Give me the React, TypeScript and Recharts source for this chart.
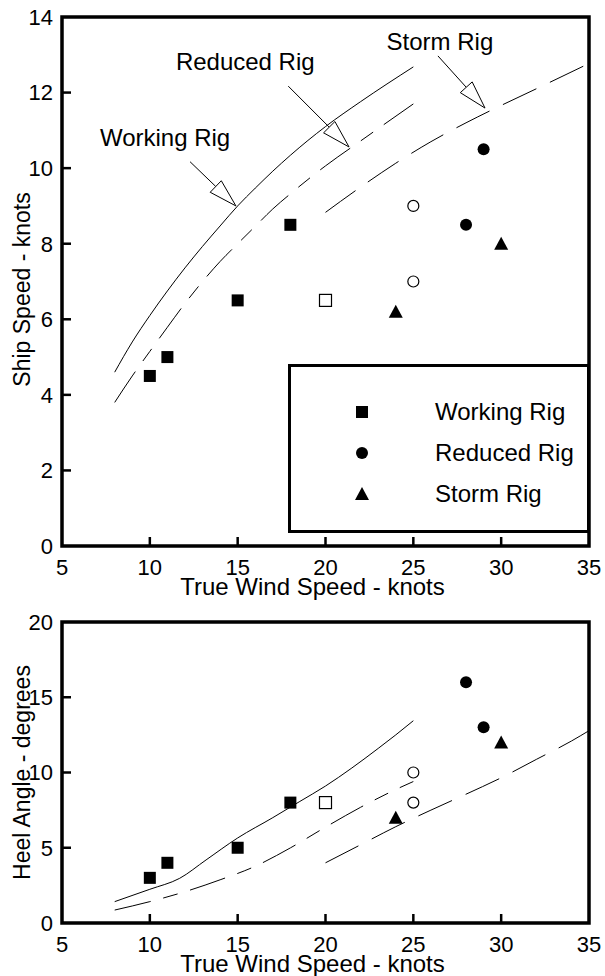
import React from 'react';
import { ComposedChart, Line, Scatter, XAxis, YAxis, ReferenceLine, Legend, Label } from 'recharts';

const FONT = '"Liberation Sans", Arial, Helvetica, sans-serif';

const xTicks = [5, 10, 15, 20, 25, 30, 35];
const speedTicks = [0, 2, 4, 6, 8, 10, 12, 14];
const heelTicks = [0, 5, 10, 15, 20];

// predicted ship speed curves
const speedWorkingCurve = [
  { x: 8, y: 4.6 }, { x: 9, y: 5.4 }, { x: 10, y: 6.1 }, { x: 11, y: 6.75 }, { x: 12, y: 7.36 },
  { x: 13, y: 7.93 }, { x: 14, y: 8.47 }, { x: 15, y: 9.0 }, { x: 16, y: 9.47 }, { x: 17, y: 9.92 },
  { x: 18, y: 10.34 }, { x: 20, y: 11.1 }, { x: 22, y: 11.76 }, { x: 25, y: 12.68 },
];
const speedReducedCurve = [
  { x: 8, y: 3.8 }, { x: 9, y: 4.5 }, { x: 10, y: 5.15 }, { x: 11, y: 5.79 }, { x: 12, y: 6.42 },
  { x: 13, y: 7.0 }, { x: 14, y: 7.53 }, { x: 15, y: 8.0 }, { x: 16, y: 8.46 }, { x: 17, y: 8.92 },
  { x: 18, y: 9.32 }, { x: 20, y: 10.06 }, { x: 22, y: 10.72 }, { x: 25, y: 11.7 },
];
const speedStormCurve = [
  { x: 20, y: 8.83 }, { x: 22, y: 9.5 }, { x: 24, y: 10.13 }, { x: 26, y: 10.7 },
  { x: 28, y: 11.2 }, { x: 30, y: 11.66 }, { x: 32, y: 12.1 }, { x: 35, y: 12.77 },
];

// measured ship speed
const speedWorkingPts = [{ x: 10, y: 4.5 }, { x: 11, y: 5 }, { x: 15, y: 6.5 }, { x: 18, y: 8.5 }];
const speedWorkingOpenPts = [{ x: 20, y: 6.5 }];
const speedReducedPts = [{ x: 28, y: 8.5 }, { x: 29, y: 10.5 }];
const speedReducedOpenPts = [{ x: 25, y: 9 }, { x: 25, y: 7 }];
const speedStormPts = [{ x: 24, y: 6.2 }, { x: 30, y: 8 }];

// predicted heel curves
const heelWorkingCurve = [
  { x: 8, y: 1.42 }, { x: 10, y: 2.24 }, { x: 11.7, y: 2.97 }, { x: 13.2, y: 4.19 }, { x: 15, y: 5.65 },
  { x: 17, y: 7.0 }, { x: 18.5, y: 8.05 }, { x: 20, y: 9.1 }, { x: 21.5, y: 10.3 }, { x: 23, y: 11.6 },
  { x: 24, y: 12.5 }, { x: 25, y: 13.44 },
];
const heelReducedCurve = [
  { x: 8, y: 0.86 }, { x: 10, y: 1.42 }, { x: 12, y: 2.08 }, { x: 14, y: 2.87 }, { x: 16, y: 3.77 },
  { x: 18, y: 4.99 }, { x: 20, y: 6.37 }, { x: 22, y: 7.69 }, { x: 24, y: 8.87 }, { x: 25, y: 9.4 },
];
const heelStormCurve = [
  { x: 20, y: 4.0 }, { x: 22, y: 5.2 }, { x: 24, y: 6.4 }, { x: 26, y: 7.5 }, { x: 28, y: 8.56 },
  { x: 30, y: 9.65 }, { x: 32, y: 10.87 }, { x: 34, y: 12.09 }, { x: 35, y: 12.78 },
];

// measured heel
const heelWorkingPts = [{ x: 10, y: 3 }, { x: 11, y: 4 }, { x: 15, y: 5 }, { x: 18, y: 8 }];
const heelWorkingOpenPts = [{ x: 20, y: 8 }];
const heelReducedPts = [{ x: 28, y: 16 }, { x: 29, y: 13 }];
const heelReducedOpenPts = [{ x: 25, y: 10 }, { x: 25, y: 8 }];
const heelStormPts = [{ x: 24, y: 7 }, { x: 30, y: 12 }];

// arrow callouts on the speed plot (tail -> tip, data units)
const callouts = [
  { label: 'Working Rig', from: { x: 12.29, y: 10.17 }, to: { x: 14.9, y: 9.0 } },
  { label: 'Reduced Rig', from: { x: 17.88, y: 12.17 }, to: { x: 21.34, y: 10.56 } },
  { label: 'Storm Rig', from: { x: 26.4, y: 12.97 }, to: { x: 29.08, y: 11.59 } },
];
const calloutTextOffset: Record<string, [number, number]> = {
  'Working Rig': [-25, -16],
  'Reduced Rig': [-43, -16],
  'Storm Rig': [2, -6],
};

const legendItems = ['Working Rig', 'Reduced Rig', 'Storm Rig'];

const REDUCED_DASH = '37 13 15 13';
const STORM_DASH = '37 15';
const TICK_LEN = 9;

const Square = ({ cx, cy, open }: any) => (
  <rect x={cx - 6} y={cy - 6} width={12} height={12}
    fill={open ? '#fff' : '#000'} stroke="#000" strokeWidth={open ? 1.2 : 0} />
);
const Circle = ({ cx, cy, open }: any) => (
  <circle cx={cx} cy={cy} r={open ? 5.5 : 6}
    fill={open ? '#fff' : '#000'} stroke="#000" strokeWidth={open ? 1.2 : 0} />
);
const Triangle = ({ cx, cy }: any) => (
  <polygon points={`${cx},${cy - 7} ${cx + 7},${cy + 6} ${cx - 7},${cy + 6}`} fill="#000" />
);

// inward tick marks, placed on the axes through the chart scales
const xTickMarks = xTicks.slice(1, -1).map((v) => ({ x: v, y: 0 }));
const yTickMarks = (ticks: number[]) => ticks.slice(1, -1).map((v) => ({ x: 5, y: v }));
const frameBox = (yMax: number) => [
  { x: 5, y: 0 }, { x: 5, y: yMax }, { x: 35, y: yMax }, { x: 35, y: 0 }, { x: 5, y: 0 },
];
const XMark = (p: any) => (
  <line x1={p.cx} x2={p.cx} y1={p.cy} y2={p.cy - TICK_LEN} stroke="#000" strokeWidth={2.5} />
);
const YMark = (p: any) => (
  <line x1={p.cx} x2={p.cx + TICK_LEN} y1={p.cy} y2={p.cy} stroke="#000" strokeWidth={2.5} />
);

const arrowShape = (label: string) => (p: any) => {
  const { x1, y1, x2, y2 } = p;
  const len = Math.hypot(x2 - x1, y2 - y1) || 1;
  const ux = (x2 - x1) / len;
  const uy = (y2 - y1) / len;
  const bx = x2 - ux * 28;
  const by = y2 - uy * 28;
  const nx = -uy * 8;
  const ny = ux * 8;
  const [dx, dy] = calloutTextOffset[label];
  return (
    <g>
      <line x1={x1} y1={y1} x2={bx} y2={by} stroke="#000" strokeWidth={1} />
      <polygon points={`${x2},${y2} ${bx + nx},${by + ny} ${bx - nx},${by - ny}`}
        fill="#fff" stroke="#000" strokeWidth={1} />
      <text x={x1 + dx} y={y1 + dy} textAnchor="middle" fontSize={24} fontFamily={FONT} fill="#000">
        {label}
      </text>
    </g>
  );
};

const xLabel = (p: any) => {
  const { x, y, width } = p.viewBox;
  return (
    <text x={x + width / 2 - 13} y={y + 49} textAnchor="middle" fontSize={24} fontFamily={FONT} fill="#000">
      True Wind Speed - knots
    </text>
  );
};

const yLabel = (text: string, shift: number) => (p: any) => {
  const { x, y, height } = p.viewBox;
  const cx = x + 22;
  const cy = y + height / 2 + shift;
  return (
    <text x={cx} y={cy} dy="0.36em" transform={`rotate(-90 ${cx} ${cy})`} textAnchor="middle"
      fontSize={23} fontFamily={FONT} fill="#000">
      {text}
    </text>
  );
};

const LegendBox = () => {
  const rows = [45, 86, 127];
  return (
    <div style={{
      boxSizing: 'border-box', width: 302, height: 169, border: '3px solid #000',
      background: '#fff', position: 'relative', fontFamily: FONT, fontSize: 24, color: '#000',
    }}>
      {legendItems.map((name, i) => (
        <div key={name} style={{ position: 'absolute', left: 0, top: rows[i] - 15, height: 30, width: 296 }}>
          <svg width={20} height={20} style={{ position: 'absolute', left: 61, top: 5 }}>
            {i === 0 && <rect x={4} y={4} width={12} height={12} fill="#000" />}
            {i === 1 && <circle cx={10} cy={10} r={6} fill="#000" />}
            {i === 2 && <polygon points="10,3 17,16 3,16" fill="#000" />}
          </svg>
          <span style={{ position: 'absolute', left: 144, top: 0, lineHeight: '30px', whiteSpace: 'nowrap' }}>
            {name}
          </span>
        </div>
      ))}
    </div>
  );
};

const tickText = { fill: '#000', fontSize: 22, fontFamily: FONT };

const frame = (yMax: number, yTicks: number[]) => [
  <Line key="frame" data={frameBox(yMax)} dataKey="y" type="linear" stroke="#000" strokeWidth={3.5}
    strokeLinejoin="miter" strokeLinecap="square" dot={false} activeDot={false} isAnimationActive={false} />,
  <Scatter key="xm" data={xTickMarks} dataKey="y" shape={XMark} isAnimationActive={false} />,
  <Scatter key="ym" data={yTickMarks(yTicks)} dataKey="y" shape={YMark} isAnimationActive={false} />,
];

const SpeedChart = () => (
  <ComposedChart width={605} height={600} margin={{ top: 17, right: 16, bottom: 0, left: 0 }}>
    <XAxis dataKey="x" type="number" domain={[5, 35]} ticks={xTicks} interval={0} height={54}
      axisLine={false} tickLine={false} tickSize={0} tickMargin={13} tick={tickText}>
      <Label content={xLabel} />
    </XAxis>
    <YAxis dataKey="y" type="number" domain={[0, 14]} ticks={speedTicks} interval={0} width={62}
      axisLine={false} tickLine={false} tickSize={0} tickMargin={9} tick={tickText}>
      <Label content={yLabel('Ship Speed - knots', 8)} />
    </YAxis>
    {frame(14, speedTicks)}
    <Line data={speedWorkingCurve} dataKey="y" type="monotone" stroke="#000" strokeWidth={1}
      dot={false} activeDot={false} isAnimationActive={false} />
    <Line data={speedReducedCurve} dataKey="y" type="monotone" stroke="#000" strokeWidth={1}
      strokeDasharray={REDUCED_DASH} dot={false} activeDot={false} isAnimationActive={false} />
    <Line data={speedStormCurve} dataKey="y" type="monotone" stroke="#000" strokeWidth={1}
      strokeDasharray={STORM_DASH} dot={false} activeDot={false} isAnimationActive={false} />
    <Scatter data={speedWorkingPts} dataKey="y" shape={(p: any) => <Square cx={p.cx} cy={p.cy} />} isAnimationActive={false} />
    <Scatter data={speedWorkingOpenPts} dataKey="y" shape={(p: any) => <Square cx={p.cx} cy={p.cy} open />} isAnimationActive={false} />
    <Scatter data={speedReducedPts} dataKey="y" shape={(p: any) => <Circle cx={p.cx} cy={p.cy} />} isAnimationActive={false} />
    <Scatter data={speedReducedOpenPts} dataKey="y" shape={(p: any) => <Circle cx={p.cx} cy={p.cy} open />} isAnimationActive={false} />
    <Scatter data={speedStormPts} dataKey="y" shape={(p: any) => <Triangle cx={p.cx} cy={p.cy} />} isAnimationActive={false} />
    {callouts.map((c) => (
      <ReferenceLine key={c.label} segment={[c.from, c.to]} stroke="#000" ifOverflow="visible"
        shape={arrowShape(c.label)} />
    ))}
    <Legend layout="vertical" align="center" verticalAlign="middle"
      wrapperStyle={{ left: 288, top: 364, width: 302, height: 169 }} content={() => <LegendBox />} />
  </ComposedChart>
);

const HeelChart = () => (
  <ComposedChart width={605} height={376} margin={{ top: 22, right: 16, bottom: 0, left: 0 }}>
    <XAxis dataKey="x" type="number" domain={[5, 35]} ticks={xTicks} interval={0} height={53}
      axisLine={false} tickLine={false} tickSize={0} tickMargin={13} tick={tickText}>
      <Label content={xLabel} />
    </XAxis>
    <YAxis dataKey="y" type="number" domain={[0, 20]} ticks={heelTicks} interval={0} width={62}
      axisLine={false} tickLine={false} tickSize={0} tickMargin={9} tick={tickText}>
      <Label content={yLabel('Heel Angle - degrees', 0)} />
    </YAxis>
    {frame(20, heelTicks)}
    <Line data={heelWorkingCurve} dataKey="y" type="monotone" stroke="#000" strokeWidth={1}
      dot={false} activeDot={false} isAnimationActive={false} />
    <Line data={heelReducedCurve} dataKey="y" type="monotone" stroke="#000" strokeWidth={1}
      strokeDasharray={REDUCED_DASH} dot={false} activeDot={false} isAnimationActive={false} />
    <Line data={heelStormCurve} dataKey="y" type="monotone" stroke="#000" strokeWidth={1}
      strokeDasharray={STORM_DASH} dot={false} activeDot={false} isAnimationActive={false} />
    <Scatter data={heelWorkingPts} dataKey="y" shape={(p: any) => <Square cx={p.cx} cy={p.cy} />} isAnimationActive={false} />
    <Scatter data={heelWorkingOpenPts} dataKey="y" shape={(p: any) => <Square cx={p.cx} cy={p.cy} open />} isAnimationActive={false} />
    <Scatter data={heelReducedPts} dataKey="y" shape={(p: any) => <Circle cx={p.cx} cy={p.cy} />} isAnimationActive={false} />
    <Scatter data={heelReducedOpenPts} dataKey="y" shape={(p: any) => <Circle cx={p.cx} cy={p.cy} open />} isAnimationActive={false} />
    <Scatter data={heelStormPts} dataKey="y" shape={(p: any) => <Triangle cx={p.cx} cy={p.cy} />} isAnimationActive={false} />
  </ComposedChart>
);

export default function App() {
  return (
    <div style={{ position: 'absolute', left: 0, top: 0, width: 605, height: 976, background: '#fff' }}>
      <div style={{ position: 'absolute', left: 0, top: 0 }}>
        <SpeedChart />
      </div>
      <div style={{ position: 'absolute', left: 0, top: 600 }}>
        <HeelChart />
      </div>
    </div>
  );
}
